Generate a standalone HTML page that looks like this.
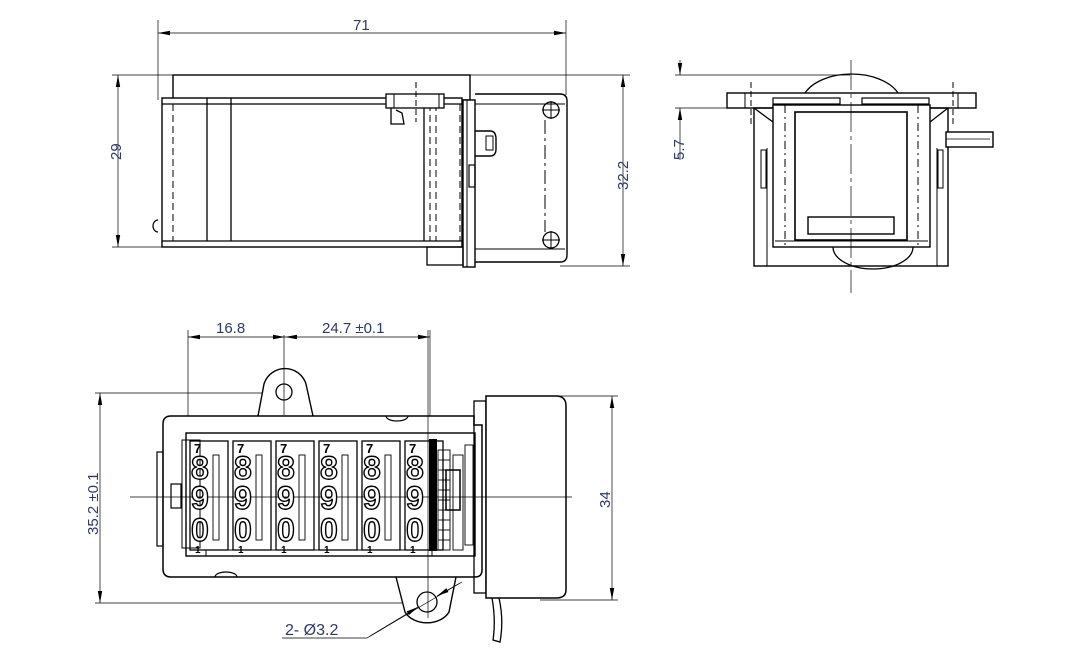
<!DOCTYPE html>
<html><head><meta charset="utf-8"><style>
html,body{margin:0;padding:0;background:#fff}
svg{display:block}
text{font-family:"Liberation Sans",sans-serif;font-size:15px;fill:#2c3a66}
text.dg{font-size:32px;font-weight:bold;fill:#fff;stroke:#000;stroke-width:1.4}
text.s7{font-size:13px;font-weight:bold;fill:#000}
text.s1{font-size:10px;font-weight:bold;fill:#000}
</style></head><body>
<svg width="1080" height="660" viewBox="0 0 1080 660" xmlns="http://www.w3.org/2000/svg">
<defs>
<marker id="a" markerWidth="12" markerHeight="6" refX="12" refY="3" orient="auto" markerUnits="userSpaceOnUse"><path d="M0,0.8 L12,3 L0,5.2z" fill="#000"/></marker>
<marker id="b" markerWidth="12" markerHeight="6" refX="0" refY="3" orient="auto" markerUnits="userSpaceOnUse"><path d="M12,0.8 L0,3 L12,5.2z" fill="#000"/></marker>
</defs>
<g fill="none" stroke="#000" stroke-width="1">
<line x1="158" y1="20" x2="158" y2="100" stroke-width="0.7"/>
<line x1="566" y1="20" x2="566" y2="95" stroke-width="0.7"/>
<line x1="158" y1="33" x2="566" y2="33" marker-start="url(#b)" marker-end="url(#a)" stroke-width="0.7"/>
<line x1="112" y1="75" x2="630" y2="75" stroke-width="0.7"/>
<line x1="112" y1="247" x2="165" y2="247" stroke-width="0.7"/>
<line x1="560" y1="266" x2="630" y2="266" stroke-width="0.7"/>
<line x1="118" y1="75" x2="118" y2="247" marker-start="url(#b)" marker-end="url(#a)" stroke-width="0.7"/>
<line x1="623" y1="75" x2="623" y2="266" marker-start="url(#b)" marker-end="url(#a)" stroke-width="0.7"/>
<rect x="173" y="75" width="297" height="25" stroke-width="1.4"/>
<rect x="162" y="98" width="300" height="149" stroke-width="1.4" fill="#fff"/>
<line x1="162" y1="104" x2="462" y2="104" stroke-width="1.2"/>
<line x1="162" y1="241" x2="462" y2="241" stroke-width="1.2"/>
<line x1="173" y1="104" x2="173" y2="241" stroke-dasharray="7,4"/>
<line x1="207" y1="98" x2="207" y2="241" stroke-width="1.3"/>
<line x1="231" y1="98" x2="231" y2="241" stroke-width="1.3"/>
<line x1="424" y1="104" x2="424" y2="241" stroke-width="1.3"/>
<line x1="430" y1="104" x2="430" y2="241" stroke-dasharray="7,4"/>
<line x1="436" y1="104" x2="436" y2="241" stroke-dasharray="7,4"/>
<line x1="460" y1="104" x2="460" y2="241" stroke-dasharray="7,4"/>
<path d="M158,220 a5,6 0 0 0 0,12" stroke-width="1.2"/>
<rect x="386" y="94" width="58" height="14" stroke-width="1.3" fill="#fff"/>
<line x1="394" y1="94" x2="394" y2="108"/><line x1="439" y1="94" x2="439" y2="108"/>
<line x1="416" y1="82" x2="416" y2="122" stroke-dasharray="6,3"/>
<path d="M391,108 L391,124 L404,124 L402,113 L396,110" stroke-width="1.3"/>
<rect x="463" y="100" width="12" height="167" stroke-width="1.4" fill="#fff"/>
<line x1="467" y1="100" x2="467" y2="267"/>
<rect x="427" y="247" width="36" height="18" stroke-width="1.3"/>
<path d="M475,94 L560,94 Q567,94 567,101 L567,255 Q567,262 560,262 L475,262" stroke-width="1.4"/>
<line x1="475" y1="104" x2="565" y2="104"/>
<line x1="475" y1="249" x2="565" y2="249"/>
<circle cx="551" cy="110" r="8" stroke-width="1.3"/>
<circle cx="551" cy="240" r="8" stroke-width="1.3"/>
<line x1="542" y1="110" x2="560" y2="110"/><line x1="551" y1="101" x2="551" y2="119"/>
<line x1="542" y1="240" x2="560" y2="240"/><line x1="551" y1="231" x2="551" y2="249"/>
<line x1="545" y1="120" x2="545" y2="232" stroke-dasharray="14,4,3,4"/>
<path d="M475,131 L490,131 Q496,131 496,139 L496,149 Q496,156 490,156 L475,156" stroke-width="1.4"/>
<rect x="486" y="136" width="7" height="14"/>
<rect x="469" y="165" width="6" height="22" stroke-width="1.2"/>
<line x1="675" y1="75" x2="850" y2="75" stroke-width="0.7"/>
<line x1="675" y1="108" x2="730" y2="108" stroke-width="0.7"/>
<line x1="680" y1="60" x2="680" y2="75" marker-end="url(#a)" stroke-width="0.7"/>
<line x1="680" y1="108" x2="680" y2="160" marker-start="url(#b)" stroke-width="0.7"/>
<path d="M805,93 A50,30 0 0 1 898,93" stroke-width="1.3"/>
<path d="M833,247 A40,22 0 0 0 913,247" stroke-width="1.3"/>
<rect x="727" y="93" width="249" height="15" stroke-width="1.4" fill="#fff"/>
<line x1="745" y1="93" x2="745" y2="108"/><line x1="958" y1="93" x2="958" y2="108"/>
<line x1="751" y1="82" x2="751" y2="125" stroke-dasharray="6,3"/>
<line x1="953" y1="82" x2="953" y2="125" stroke-dasharray="6,3"/>
<path d="M754,108 L773,122 M948,108 L930,122" stroke-width="1.3"/>
<rect x="773" y="98" width="67" height="6" stroke-width="1.2"/>
<rect x="862" y="98" width="67" height="6" stroke-width="1.2"/>
<rect x="754" y="108" width="194" height="158" stroke-width="1.4"/>
<rect x="773" y="105" width="157" height="142" stroke-width="1.4" fill="#fff"/>
<rect x="761" y="150" width="5" height="38"/><rect x="938" y="150" width="5" height="38"/>
<line x1="767" y1="148" x2="767" y2="266"/><line x1="937" y1="148" x2="937" y2="266"/>
<line x1="785" y1="105" x2="785" y2="245" stroke-dasharray="8,4,2,4"/>
<line x1="918" y1="105" x2="918" y2="245" stroke-dasharray="8,4,2,4"/>
<rect x="795" y="112" width="112" height="128" stroke-width="1.6"/>
<rect x="808" y="217" width="86" height="17" stroke-width="1.4"/>
<line x1="775" y1="241" x2="928" y2="241"/>
<rect x="946" y="132" width="47" height="15" stroke-width="1.4" fill="#fff"/>
<line x1="946" y1="139" x2="990" y2="139" stroke-width="0.8"/>
<line x1="851" y1="60" x2="851" y2="293" stroke-width="0.7" stroke-dasharray="30,4,4,4"/>
<line x1="188" y1="330" x2="188" y2="440" stroke-width="0.7"/>
<line x1="430" y1="330" x2="430" y2="440" stroke-width="0.7"/>
<line x1="188" y1="337" x2="285" y2="337" marker-start="url(#b)" marker-end="url(#a)" stroke-width="0.7"/>
<line x1="285" y1="337" x2="430" y2="337" marker-start="url(#b)" marker-end="url(#a)" stroke-width="0.7"/>
<line x1="95" y1="393" x2="300" y2="393" stroke-width="0.7"/>
<line x1="95" y1="603" x2="430" y2="603" stroke-width="0.7"/>
<line x1="540" y1="396" x2="618" y2="396" stroke-width="0.7"/>
<line x1="540" y1="600" x2="618" y2="600" stroke-width="0.7"/>
<line x1="100" y1="393" x2="100" y2="603" marker-start="url(#b)" marker-end="url(#a)" stroke-width="0.7"/>
<line x1="612" y1="396" x2="612" y2="600" marker-start="url(#b)" marker-end="url(#a)" stroke-width="0.7"/>
<path d="M258,416 L264,384 A22,22 0 0 1 306,384 L313,416" stroke-width="1.4" fill="#fff"/>
<circle cx="284" cy="392" r="8" stroke-width="1.3"/>
<path d="M396,577 L405,612 A24,18 0 0 0 449,612 L456,577" stroke-width="1.4" fill="#fff"/>
<circle cx="427" cy="602" r="10" stroke-width="1.3"/>
<path d="M171,416 L474,416 L474,425 L482,425 L482,570 Q482,577 475,577 L171,577 Q163,577 163,569 L163,424 Q163,416 171,416z" stroke-width="1.5" fill="#fff"/>
<path d="M386,416 a11,5 0 0 0 22,0 M215,577 a11,5 0 0 1 22,0" stroke-width="1.2"/>
<rect x="157" y="452" width="6" height="94" stroke-width="1.2"/>
<rect x="171" y="484" width="10" height="24" stroke-width="1.2"/>
<rect x="186" y="433" width="289" height="123" stroke-width="1.4"/>
<rect x="182" y="440" width="18" height="108"/>
<g stroke-width="1.3">
<rect x="190" y="441" width="38" height="109"/><rect x="233" y="441" width="38" height="109"/>
<rect x="276" y="441" width="38" height="109"/><rect x="319" y="441" width="38" height="109"/>
<rect x="362" y="441" width="38" height="109"/><rect x="405" y="441" width="38" height="109"/>
</g>
<g stroke-width="0.9">
<rect x="213" y="455" width="6" height="85"/><rect x="256" y="455" width="6" height="85"/><rect x="299" y="455" width="6" height="85"/><rect x="342" y="455" width="6" height="85"/><rect x="385" y="455" width="6" height="85"/>
</g>
<rect x="206" y="550" width="226" height="6"/>
<rect x="430" y="440" width="6" height="110" fill="#000" stroke-width="2"/>
<g stroke-width="0.9">
<rect x="438" y="450" width="12" height="100"/><rect x="453" y="455" width="10" height="95"/><rect x="465" y="445" width="8" height="100"/>
<rect x="446" y="470" width="14" height="40" stroke-width="1.5"/>
<line x1="438" y1="460" x2="450" y2="460"/><line x1="438" y1="470" x2="450" y2="470"/><line x1="438" y1="480" x2="450" y2="480"/><line x1="438" y1="490" x2="450" y2="490"/><line x1="438" y1="500" x2="450" y2="500"/><line x1="438" y1="510" x2="450" y2="510"/><line x1="438" y1="520" x2="450" y2="520"/><line x1="438" y1="530" x2="450" y2="530"/><line x1="438" y1="540" x2="450" y2="540"/>
</g>
<rect x="474" y="401" width="12" height="192" stroke-width="1.3"/>
<path d="M486,396 L556,396 Q566,396 566,406 L566,590 Q566,598 556,598 L486,598z" stroke-width="1.5" fill="#fff"/>
<path d="M492,598 Q496,620 493,640 L500,642 Q504,620 499,598" stroke-width="1.3"/>
<line x1="130" y1="497" x2="572" y2="497" stroke-width="0.7"/>
<line x1="284" y1="335" x2="284" y2="415" stroke-width="0.7"/>
<line x1="428" y1="330" x2="428" y2="618" stroke-width="0.7"/>
<path d="M282,638 L367,638 L462,582" stroke-width="0.7"/>
<line x1="370" y1="636" x2="418" y2="607" marker-end="url(#a)" stroke-width="0.7"/>
<line x1="460" y1="583" x2="437" y2="596" marker-end="url(#a)" stroke-width="0.7"/>
</g>
<g>
<text class="dg" x="191" y="479">8</text><text class="dg" x="234" y="479">8</text><text class="dg" x="277" y="479">8</text><text class="dg" x="320" y="479">8</text><text class="dg" x="363" y="479">8</text><text class="dg" x="406" y="479">8</text>
<text class="dg" x="191" y="509">9</text><text class="dg" x="234" y="509">9</text><text class="dg" x="277" y="509">9</text><text class="dg" x="320" y="509">9</text><text class="dg" x="363" y="509">9</text><text class="dg" x="406" y="509">9</text>
<text class="dg" x="191" y="541">0</text><text class="dg" x="234" y="541">0</text><text class="dg" x="277" y="541">0</text><text class="dg" x="320" y="541">0</text><text class="dg" x="363" y="541">0</text><text class="dg" x="406" y="541">0</text>
<text class="s7" x="194" y="453">7</text><text class="s7" x="237" y="453">7</text><text class="s7" x="280" y="453">7</text><text class="s7" x="323" y="453">7</text><text class="s7" x="366" y="453">7</text><text class="s7" x="409" y="453">7</text>
<text class="s1" x="195" y="553">1</text><text class="s1" x="238" y="553">1</text><text class="s1" x="281" y="553">1</text><text class="s1" x="324" y="553">1</text><text class="s1" x="367" y="553">1</text><text class="s1" x="410" y="553">1</text>
</g>
<text x="353" y="30">71</text>
<text transform="translate(121,160) rotate(-90)">29</text>
<text transform="translate(628,190) rotate(-90)">32.2</text>
<text transform="translate(684,160) rotate(-90)">5.7</text>
<text x="216" y="333">16.8</text>
<text x="322" y="333">24.7 ±0.1</text>
<text transform="translate(98,535) rotate(-90)">35.2 ±0.1</text>
<text transform="translate(610,508) rotate(-90)">34</text>
<text x="285" y="635" style="font-size:16px">2- Ø3.2</text>
</svg>
</body></html>
